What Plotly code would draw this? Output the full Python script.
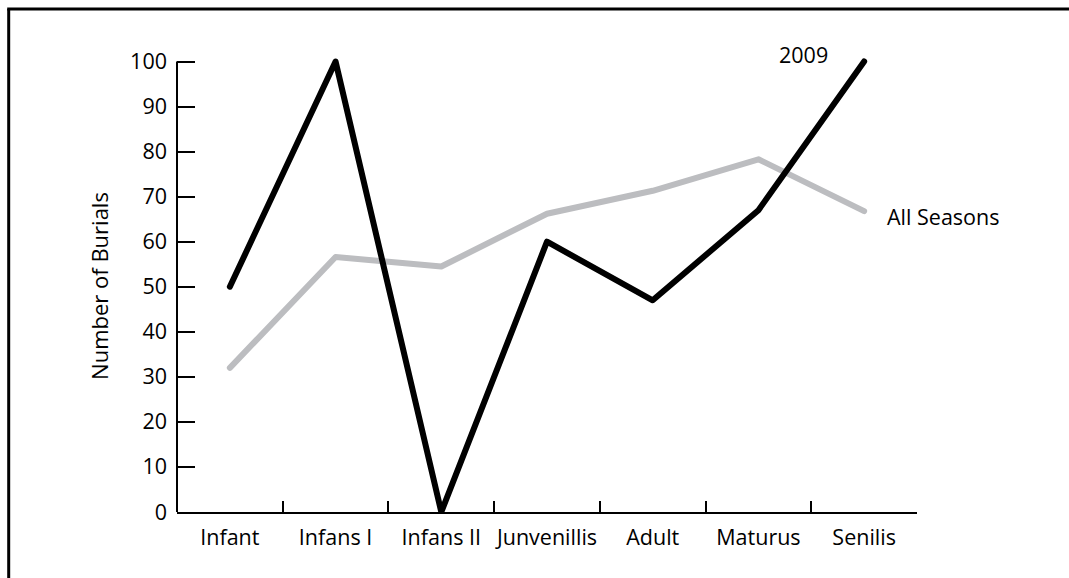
import plotly.graph_objects as go

# Age categories and burial counts
categories = ["Infant", "Infans I", "Infans II", "Junvenillis", "Adult", "Maturus", "Senilis"]
season_2009 = [50, 100, 0, 60, 47, 67, 100]
all_seasons = [32, 56.6, 54.5, 66.2, 71.3, 78.3, 66.8]
y_ticks = [0, 10, 20, 30, 40, 50, 60, 70, 80, 90, 100]

FONT = "Open Sans"
FS = 21.5
W, H = 1069, 578
L, R, T, B = 177, 917, 57.2, 512  # plot-area pixel box


def px_to_paper(x=None, y=None):
    out = []
    if x is not None:
        out.append((x - L) / (R - L))
    if y is not None:
        out.append((B - y) / (B - T))
    return out[0] if len(out) == 1 else tuple(out)


fig = go.Figure()
fig.add_trace(go.Scatter(
    x=categories, y=all_seasons, mode="lines",
    line=dict(color="#bcbdc0", width=6), name="All Seasons",
))
fig.add_trace(go.Scatter(
    x=categories, y=season_2009, mode="lines",
    line=dict(color="#000000", width=6), name="2009",
))

shapes = [
    # vertical y-axis line, 0..100
    dict(type="line", xref="paper", yref="y", x0=0, x1=0, y0=0, y1=100,
         line=dict(color="#000", width=2)),
    # outer frame: left and top edges
    dict(type="line", xref="paper", yref="paper",
         x0=px_to_paper(x=8.7), x1=px_to_paper(x=8.7),
         y0=px_to_paper(y=H + 5), y1=px_to_paper(y=9.3),
         line=dict(color="#000", width=3)),
    dict(type="line", xref="paper", yref="paper",
         x0=px_to_paper(x=7.2), x1=px_to_paper(x=W + 5),
         y0=px_to_paper(y=9.3), y1=px_to_paper(y=9.3),
         line=dict(color="#000", width=3)),
]

annotations = [
    dict(text="2009", xref="paper", yref="paper",
         x=px_to_paper(x=777), y=px_to_paper(y=55), xanchor="left", yanchor="middle",
         showarrow=False, font=dict(family=FONT, size=FS, color="#000")),
    dict(text="All Seasons", xref="paper", yref="paper",
         x=px_to_paper(x=885), y=px_to_paper(y=217), xanchor="left", yanchor="middle",
         showarrow=False, font=dict(family=FONT, size=FS, color="#000")),
    dict(text="Number of Burials", xref="paper", yref="paper", textangle=-90,
         x=px_to_paper(x=99), y=px_to_paper(y=286), xanchor="center", yanchor="middle",
         showarrow=False, font=dict(family=FONT, size=22, color="#000")),
]

fig.update_layout(
    width=W, height=H,
    margin=dict(l=L, r=W - R, t=T, b=H - B, pad=0),
    paper_bgcolor="white", plot_bgcolor="white",
    showlegend=False,
    font=dict(family=FONT, size=FS, color="#000"),
    shapes=shapes, annotations=annotations,
    xaxis=dict(
        type="category", range=[-0.5, 6.5], showgrid=False, zeroline=False,
        showline=True, linecolor="#000", linewidth=2,
        ticks="inside", tickson="boundaries", ticklen=11, tickwidth=2, tickcolor="#000",
        ticklabelstandoff=5, tickangle=0, automargin=False,
        tickfont=dict(family=FONT, size=FS, color="#000"),
    ),
    yaxis=dict(
        range=[0, 101], showgrid=False, zeroline=False, showline=False,
        tickvals=y_ticks, ticktext=[str(v) for v in y_ticks],
        ticks="inside", ticklen=18, tickwidth=2, tickcolor="#000",
        ticklabelstandoff=9, automargin=False,
        tickfont=dict(family=FONT, size=FS, color="#000"),
    ),
)

post = """
document.querySelectorAll('.scatterlayer path.js-line').forEach(function(p){
  p.style.strokeLinecap = 'round';
  p.style.strokeLinejoin = 'round';
});
"""
fig.write_html("out.html", post_script=post)
